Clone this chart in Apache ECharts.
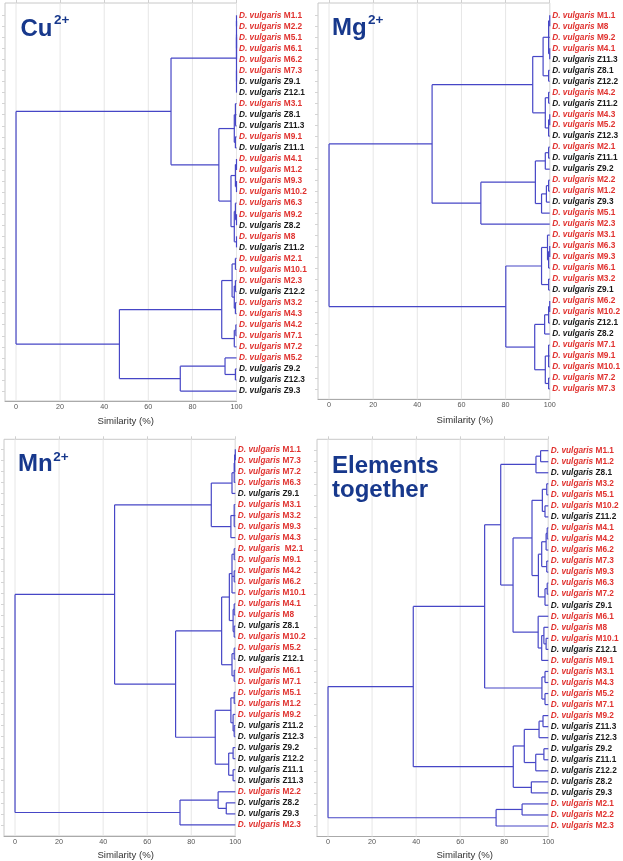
<!DOCTYPE html>
<html><head><meta charset="utf-8">
<script src="https://cdn.jsdelivr.net/npm/echarts@6/dist/echarts.min.js"></script>
<style>html,body{margin:0;padding:0;background:#fff}#c{width:623px;height:861px}</style>
</head><body><div id="c"></div>
<script>
// ---------- DATA ----------
const xTicks = [0, 20, 40, 60, 80, 100];
const axisName = 'Similarity (%)';
const genus = 'D. vulgaris';

const cuLeaves = ['M1.1','M2.2','M5.1','M6.1','M6.2','M7.3','Z9.1','Z12.1','M3.1','Z8.1','Z11.3','M9.1','Z11.1','M4.1','M1.2','M9.3','M10.2','M6.3','M9.2','Z8.2','M8','Z11.2','M2.1','M10.1','M2.3','Z12.2','M3.2','M4.3','M4.2','M7.1','M7.2','M5.2','Z9.2','Z12.3','Z9.3'];
// node = [similarity, child, child, ...]; child = leaf index or node
const cuTree = [0,
  [70.3,
    [100, [100, [100, 0, 1], [100, 2, 3, 4]], [100, 5, 6, 7]],
    [92, [99, [99.5, 8, 9, 10], [99.5, 11, 12]],
         [97.5, [99.5, [100, 13, 14], [100, 15, 16]], [99, [99.5, 17, [100, 18, 19]], [100, 20, 21]]]]],
  [46.9,
    [93.3, [98, [99.5, 22, 23], [99, [99.5, 24, 25], [99.5, 26, 27]]], [99, [99.7, 28, 29], 30]],
    [74.5, [94.8, 31, [99.5, 32, 33]], 34]]];

const mgLeaves = ['M1.1','M8','M9.2','M4.1','Z11.3','Z8.1','Z12.2','M4.2','Z11.2','M4.3','M5.2','Z12.3','M2.1','Z11.1','Z9.2','M2.2','M1.2','Z9.3','M5.1','M2.3','M3.1','M6.3','M9.3','M6.1','M3.2','Z9.1','M6.2','M10.2','Z12.1','Z8.2','M7.1','M9.1','M10.1','M7.2','M7.3'];
const mgTree = [0,
  [46.7,
    [92.3, [97, [99.5, [100, 0, 1], 2, [100, 3, 4]], [99.5, 5, 6]], [98, [99.5, 7, 8], [99.5, [100, 9, 10], 11]]],
    [68.8, [93.5, [98, [99.5, 12, 13], 14], [96.3, [98.5, [99.5, 15, 16], 17], 18]], 19]],
  [80.1,
    [96.3, [99, 20, [99.5, [100, 21, 22], 23]], [99.5, 24, 25]],
    [93.2, [97.7, [99.5, [100, 26, 27], 28], 29], [98, [99.5, 30, 31, 32], [99.5, 33, 34]]]]];

const mnLeaves = ['M1.1','M7.3','M7.2','M6.3','Z9.1','M3.1','M3.2','M9.3','M4.3',' M2.1','M9.1','M4.2','M6.2','M10.1','M4.1','M8','Z8.1','M10.2','M5.2','Z12.1','M6.1','M7.1','M5.1','M1.2','M9.2','Z11.2','Z12.3','Z9.2','Z12.2','Z11.1','Z11.3','M2.2','Z8.2','Z9.3','M2.3'];
const mnTree = [0,
  [45.2,
    [89.1, [98.5, [99.5, [99.7, [100, 0, 1], 2], 3], 4], [98, [99.5, 5, 6, 7], 8]],
    [72.9,
      [93.8, [97.3, [98.5, [99.5, 9, 10], [99.5, 11, 12], 13], [99, [99.5, 14, 15], [99.5, 16, 17]]],
             [98.5, [99.5, 18, 19], [99.5, 20, 21]]],
      [90.9, [98, [99.5, 22, 23], [99, 24, [99.5, 25, 26]]], [97, [99, 27, 28], [99, 29, 30]]]]],
  [74.9, [92.2, 31, [95.9, 32, 33]], 34]];

const elLeaves = ['M1.1','M1.2','Z8.1','M3.2','M5.1','M10.2','Z11.2','M4.1','M4.2','M6.2','M7.3','M9.3','M6.3','M7.2','Z9.1','M6.1','M8','M10.1','Z12.1','M9.1','M3.1','M4.3','M5.2','M7.1','M9.2','Z11.3','Z12.3','Z9.2','Z11.1','Z12.2','Z8.2','Z9.3','M2.1','M2.2','M2.3'];
const elTree = [0,
  [38.7,
    [71.1,
      [78.4, [94.4, [96.5, 0, 1], 2],
             [84, [92.6, [97.3, [99.3, 3, 4], [98.5, 5, 6]],
                         [95.5, [97, [99, [99.5, 7, 8], 9], [99.3, 10, 11]], [98.5, [99.5, 12, 13], 14]]],
                  [95.4, 15, [97, [98, 16, [99, 17, 18]], 19]]]],
      [97.1, [98.5, 20, 21], [98.5, 22, 23]]],
    [84.1, [89.1, [95.8, [97.6, 24, 25], 26], [94.3, [98, 27, 28], 29]], [92.3, 30, 31]]],
  [76.3, [88.1, 32, 33], 34]];

const titles = [['Cu', '2+'], ['Mg', '2+'], ['Mn', '2+'], ['Elements\ntogether', '']];

// ---------- STYLE / LAYOUT ----------
const RED = '#e0322f', BLK = '#1a1a1a', NAVY = '#17388c', LINE = '#4646c6';
const FONT = 'Liberation Sans, Arial, sans-serif';
const panels = [
  {leaves: cuLeaves, tree: cuTree, grid: {left: 5, top: 3, width: 231.5, height: 398}, ymin: -1.11, ymax: 34.9, namePad: 10, nameGap: 15},
  {leaves: mgLeaves, tree: mgTree, grid: {left: 318, top: 3, width: 232.3, height: 396.3}, ymin: -1.12, ymax: 34.94, namePad: 62, nameGap: 16.5},
  {leaves: mnLeaves, tree: mnTree, grid: {left: 4, top: 439.3, width: 231.3, height: 397.4}, ymin: -0.9, ymax: 35.0, namePad: 12, nameGap: 14},
  {leaves: elLeaves, tree: elTree, grid: {left: 317, top: 439.3, width: 231.3, height: 398}, ymin: -1.03, ymax: 34.95, namePad: 64, nameGap: 13.5}
];
const titlePos = [
  {x: 20.5, y: 29, sx: 54, sy: 20.5},
  {x: 332, y: 28, sx: 368, sy: 20},
  {x: 18, y: 464.7, sx: 53.3, sy: 457.2},
  {x: 332, y: 478.5}
];

function buildSegments(tree) {
  const segs = [];
  function walk(n) {
    if (typeof n === 'number') return {h: 100, p: n};
    const H = n[0];
    const kids = n.slice(1).map(walk);
    const ps = kids.map(k => k.p);
    segs.push([H, Math.min(...ps), H, Math.max(...ps)]);
    kids.forEach(k => segs.push([H, k.p, k.h, k.p]));
    return {h: H, p: (kids[0].p + kids[kids.length - 1].p) / 2};
  }
  walk(tree);
  return segs;
}

const labelRich = {
  ir: {fontStyle: 'italic', fontWeight: 'bold', color: RED, fontSize: 8.3, fontFamily: FONT},
  mr: {fontWeight: 'bold', color: RED, fontSize: 8.3, fontFamily: FONT},
  ib: {fontStyle: 'italic', fontWeight: 'bold', color: BLK, fontSize: 8.3, fontFamily: FONT},
  mb: {fontWeight: 'bold', color: BLK, fontSize: 8.3, fontFamily: FONT}
};

const grids = [], xAxes = [], yAxes = [], series = [], graphics = [];
panels.forEach((pn, i) => {
  grids.push(Object.assign({show: true, borderColor: '#c8c8c8', borderWidth: 1, backgroundColor: 'transparent'}, pn.grid));
  const idx = pn.leaves.map((_, k) => k);
  xAxes.push({
    gridIndex: i, type: 'value', min: -5, max: 100, position: 'bottom',
    axisLine: {show: true, onZero: false, lineStyle: {color: '#aaaaaa', width: 1}},
    axisTick: {show: false},
    axisLabel: {customValues: xTicks, fontSize: 7.2, color: '#555', margin: 2.5, fontFamily: FONT},
    splitLine: {show: false},
    name: axisName, nameLocation: 'middle', nameGap: pn.nameGap,
    nameTextStyle: {fontSize: 9.6, color: '#333', fontFamily: FONT, padding: [0, 0, 0, pn.namePad]}
  });
  xAxes.push({
    gridIndex: i, type: 'value', min: -5, max: 100, position: 'top',
    axisLine: {show: false, onZero: false}, axisLabel: {show: false}, splitLine: {show: false},
    axisTick: {show: true, customValues: xTicks, length: 3, lineStyle: {color: '#d0d0d0'}}
  });
  yAxes.push({
    gridIndex: i, type: 'value', inverse: true, min: pn.ymin, max: pn.ymax, position: 'right',
    axisLine: {show: false, onZero: false}, axisTick: {show: false}, splitLine: {show: false},
    axisLabel: {
      customValues: idx, margin: 2.5, fontSize: 8.3, fontFamily: FONT,
      formatter: v => {
        const name = pn.leaves[Math.round(v)];
        const red = name.trim()[0] === 'M';
        return '{' + (red ? 'ir' : 'ib') + '|' + genus + ' }{' + (red ? 'mr' : 'mb') + '|' + name + '}';
      },
      rich: labelRich
    }
  });
  yAxes.push({
    gridIndex: i, type: 'value', inverse: true, min: pn.ymin, max: pn.ymax, position: 'left',
    axisLine: {show: false, onZero: false}, axisLabel: {show: false}, splitLine: {show: false},
    axisTick: {show: true, customValues: idx, length: 3, lineStyle: {color: '#d4d4d4'}}
  });
  // vertical grid lines
  series.push({
    type: 'custom', xAxisIndex: 2 * i, yAxisIndex: 2 * i, silent: true, z: 1,
    data: xTicks.map(v => [v]), encode: {x: 0},
    renderItem: (params, api) => {
      const cs = params.coordSys;
      const x = api.coord([api.value(0), 0])[0];
      return {type: 'line', shape: {x1: x, y1: cs.y, x2: x, y2: cs.y + cs.height},
        style: {stroke: '#e6e6e6', lineWidth: 1}};
    }
  });
  // dendrogram links
  series.push({
    type: 'custom', xAxisIndex: 2 * i, yAxisIndex: 2 * i, silent: true, z: 3, clip: false,
    dimensions: ['x1', 'y1', 'x2', 'y2'],
    encode: {x: [0, 2], y: [1, 3]},
    data: buildSegments(pn.tree),
    renderItem: (params, api) => {
      const a = api.coord([api.value(0), api.value(1)]);
      const b = api.coord([api.value(2), api.value(3)]);
      return {type: 'line', shape: {x1: a[0], y1: a[1], x2: b[0], y2: b[1]},
        style: {stroke: LINE, lineWidth: 1.2}};
    }
  });
  const tp = titlePos[i];
  const t = titles[i];
  graphics.push({type: 'text', x: tp.x, y: tp.y, z: 10,
    style: {text: t[0], fill: NAVY, fontSize: 24, fontWeight: 'bold', fontFamily: FONT,
      verticalAlign: 'middle', lineHeight: 23.5}});
  if (t[1]) graphics.push({type: 'text', x: tp.sx, y: tp.sy, z: 10,
    style: {text: t[1], fill: NAVY, fontSize: 13.5, fontWeight: 'bold', fontFamily: FONT, verticalAlign: 'middle'}});
});

const chart = echarts.init(document.getElementById('c'), null, {renderer: 'canvas'});
chart.setOption({
  animation: false,
  backgroundColor: '#fff',
  grid: grids, xAxis: xAxes, yAxis: yAxes, series: series, graphic: graphics
});
</script></body></html>
